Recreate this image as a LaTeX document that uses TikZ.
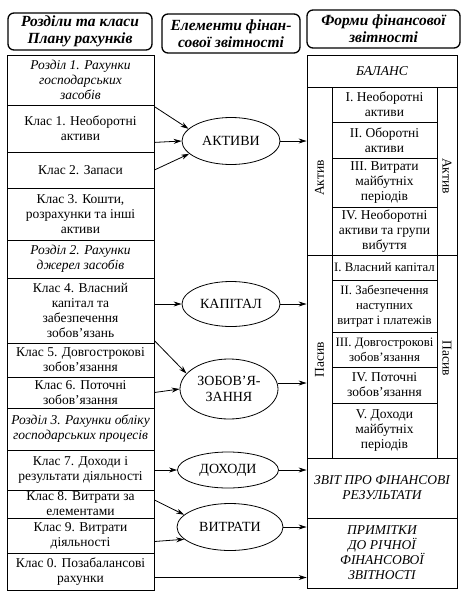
\documentclass[tikz,border=0pt]{standalone}
\usepackage{fontspec}
\setmainfont{Liberation Serif}
\usetikzlibrary{arrows.meta,shapes.geometric}
\newcommand\fs{\fontsize{13.5}{15}\selectfont}
\newcommand\sfs{\fontsize{12.8}{15}\selectfont}
\newcommand\efs{\fontsize{14}{16}\selectfont}
\newcommand\hfs{\fontsize{15.5}{17}\selectfont\bfseries\itshape}
\newcommand\rbox[7][]{\node[box,#1,minimum width={(#4)-(#3)},minimum height={(#6)-(#5)}] (#2) at ({((#3)+(#4))/2},{((#5)+(#6))/2}) {#7};}
\begin{document}
\begin{tikzpicture}[x=1pt,y=-1pt,
  box/.style={draw,line width=0.8pt,rectangle,inner sep=0pt,align=center,font=\fs},
  ital/.style={font=\fs\itshape},
  tight/.style={font=\sfs},
  hdr/.style={draw,line width=1.3pt,rounded corners=6pt,inner sep=0pt,align=center,font=\hfs},
  ell/.style={draw,line width=0.8pt,ellipse,inner sep=0pt,align=center,font=\efs},
  arr/.style={line width=0.8pt,-{Stealth[length=8pt,width=5pt]}},
  lbl/.style={font=\fs,inner sep=0pt}]
\useasboundingbox (0,0) rectangle (473,600);
% headers
\rbox[hdr]{h1}{8}{152}{13}{50}{Розділи та класи\\Плану рахунків}
\rbox[hdr]{h2}{162}{300}{14}{53}{Елементи фінан-\\сової звітності}
\rbox[hdr]{h3}{307}{460}{10}{48}{Форми фінансової\\звітності}
% left column
\rbox[ital]{r1}{7}{154}{55}{105}{Розділ 1. Рахунки\\господарських\\засобів}
\rbox{k1}{7}{154}{105}{152}{Клас 1. Необоротні\\активи}
\rbox{k2}{7}{154}{152}{188}{Клас 2. Запаси}
\rbox{k3}{7}{154}{188}{240}{Клас 3. Кошти,\\розрахунки та інші\\активи}
\rbox[ital]{r2}{7}{154}{240}{278}{Розділ 2. Рахунки\\джерел засобів}
\rbox{k4}{7}{154}{278}{343}{Клас 4. Власний\\капітал та\\забезпечення\\зобов’язань}
\rbox{k5}{7}{154}{343}{377}{Клас 5. Довгострокові\\зобов’язання}
\rbox{k6}{7}{154}{377}{408}{Клас 6. Поточні\\зобов’язання}
\rbox[ital]{r3}{7}{154}{408}{450}{Розділ 3. Рахунки обліку\\господарських процесів}
\rbox{k7}{7}{154}{450}{490}{Клас 7. Доходи і\\результати діяльності}
\rbox{k8}{7}{154}{490}{518}{Клас 8. Витрати за\\елементами}
\rbox{k9}{7}{154}{518}{553}{Клас 9. Витрати\\діяльності}
\rbox{k0}{7}{154}{553}{590}{Клас 0. Позабалансові\\рахунки}
% ellipses
\node[ell,minimum width=98,minimum height=47] (akt) at (231,141) {АКТИВИ};
\node[ell,minimum width=98,minimum height=45] (kap) at (231,304) {КАПІТАЛ};
\node[ell,minimum width=98,minimum height=60] (zob) at (229,389) {ЗОБОВ’Я-\\ЗАННЯ};
\node[ell,minimum width=101,minimum height=36] (doh) at (228,470) {ДОХОДИ};
\node[ell,minimum width=106,minimum height=47] (vyt) at (230,527) {ВИТРАТИ};
% right column
\rbox[ital]{bal}{307}{457}{55}{87}{БАЛАНС}
\rbox{lsA}{307}{332}{87}{255}{}
\rbox{rsA}{437}{457}{87}{255}{}
\rbox{a1}{332}{437}{87}{122}{I. Необоротні\\активи}
\rbox{a2}{332}{437}{122}{158}{II. Оборотні\\активи}
\rbox{a3}{332}{437}{158}{207}{III. Витрати\\майбутніх\\періодів}
\rbox{a4}{332}{437}{207}{255}{IV. Необоротні\\активи та групи\\вибуття}
\rbox{lsP}{307}{332}{255}{458}{}
\rbox{rsP}{437}{457}{255}{458}{}
\rbox[tight]{p1}{332}{437}{255}{280}{I. Власний капітал}
\rbox[tight]{p2}{332}{437}{280}{332}{II. Забезпечення\\наступних\\витрат і платежів}
\rbox[tight]{p3}{332}{437}{332}{367}{III. Довгострокові\\зобов’язання}
\rbox{p4}{332}{437}{367}{403}{IV. Поточні\\зобов’язання}
\rbox{p5}{332}{437}{403}{458}{V. Доходи\\майбутніх\\періодів}
\rbox[ital]{zvit}{307}{457}{458}{518}{ЗВІТ ПРО ФІНАНСОВІ\\РЕЗУЛЬТАТИ}
\rbox[ital]{prim}{307}{457}{518}{588}{ПРИМІТКИ\\ДО РІЧНОЇ\\ФІНАНСОВОЇ\\ЗВІТНОСТІ}
\node[lbl,rotate=90] (tA1) at (319.5,178) {Актив};
\node[lbl,rotate=-90] (tA2) at (447,176) {Актив};
\node[lbl,rotate=90] (tP1) at (319.5,360) {Пасив};
\node[lbl,rotate=-90] (tP2) at (447,358) {Пасив};
% arrows left
\draw[arr] ([yshift=-2pt]k1.north east) -- (akt.164);
\draw[arr] ([yshift=10pt]k1.south east) -- (akt.west);
\draw[arr] (k2.east) -- (akt.197);
\draw[arr] (k4.east |- kap.west) -- (kap.west);
\draw[arr] ([yshift=2pt]k5.north east) -- (zob.160);
\draw[arr] (k6.east) -- (zob.west);
\draw[arr] (k7.east) -- (doh.west);
\draw[arr] ([yshift=4pt]k8.east) -- (vyt.165);
\draw[arr] ([yshift=-6pt]k9.east) -- (vyt.195);
\draw[arr] ([yshift=-6pt]k0.east) -- ([yshift=-6pt]k0.east -| prim.west);
% arrows right
\draw[arr] (akt.east) -- (akt.east -| lsA.west);
\draw[arr] (kap.east) -- (kap.east -| lsP.west);
\draw[arr] ([yshift=6pt]zob.east) -- ([yshift=6pt]zob.east -| lsP.west);
\draw[arr] (doh.east) -- (doh.east -| zvit.west);
\draw[arr] (vyt.east) -- (vyt.east -| prim.west);
\end{tikzpicture}
\end{document}
